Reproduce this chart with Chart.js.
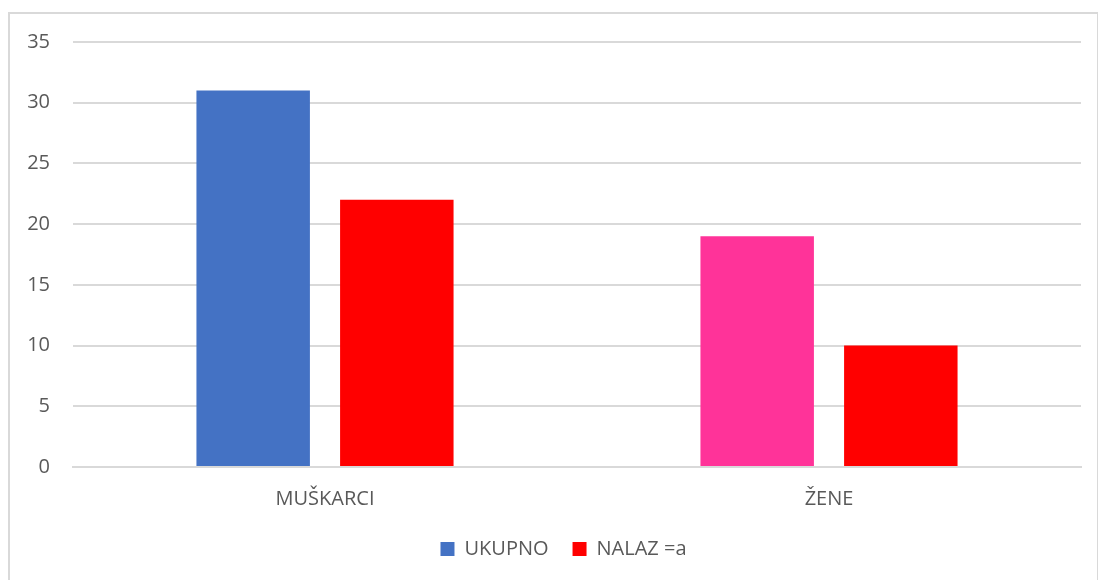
<!DOCTYPE html>
<html>
<head>
<meta charset="utf-8">
<script src="https://cdn.jsdelivr.net/npm/chart.js@4"></script>
<style>
  html, body { margin: 0; padding: 0; background: #fff; }
  #frame { position: absolute; left: 8px; top: 12px; width: 1087px; height: 600px; border: 2px solid #d9d9d9; }
  #c { position: absolute; left: 0; top: 0; }
</style>
</head>
<body>
<div id="frame"></div>
<canvas id="c" width="1098" height="580"></canvas>
<script>
// data
const categories = ["MUŠKARCI", "ŽENE"];
const ukupno = [31, 19];
const nalaz = [22, 10];
const seriesNames = ["UKUPNO", "NALAZ =a"];
const yTicks = [0, 5, 10, 15, 20, 25, 30, 35];

const ukupnoColors = ["#4472C4", "#FF3399"];
const nalazColor = "#FF0000";
const textColor = "#595959";
const gridColor = "#d9d9d9";
const font = { family: "'Open Sans', sans-serif", size: 20 };

// legend sits a bit right of centre in the original
const legendShift = {
  id: "legendShift",
  afterLayout(chart) {
    chart.legend.left += 23;
    chart.legend.right += 23;
  },
};

const ctx = document.getElementById("c").getContext("2d");
const chart = new Chart(ctx, {
  type: "bar",
  data: {
    labels: categories,
    datasets: [
      {
        label: seriesNames[0],
        data: ukupno,
        backgroundColor: ukupnoColors,
        categoryPercentage: 0.57,
        barPercentage: 0.79,
      },
      {
        label: seriesNames[1],
        data: nalaz,
        backgroundColor: nalazColor,
        categoryPercentage: 0.57,
        barPercentage: 0.79,
      },
    ],
  },
  options: {
    responsive: false,
    animation: false,
    layout: { padding: { left: 0, right: 17, top: 42, bottom: 11 } },
    scales: {
      x: {
        grid: { display: false, drawTicks: false },
        border: { display: true, color: gridColor, width: 2 },
        ticks: { color: textColor, font: font, padding: 20 },
        afterFit: (scale) => { scale.height = 48; },
      },
      y: {
        min: 0,
        max: 35,
        afterBuildTicks: (scale) => { scale.ticks = yTicks.map((v) => ({ value: v })); },
        grid: { color: gridColor, lineWidth: 2, drawTicks: false },
        border: { display: false },
        ticks: { color: textColor, font: font, padding: 23 },
        afterFit: (scale) => { scale.width = 73; },
      },
    },
    plugins: {
      legend: {
        position: "bottom",
        labels: {
          color: textColor,
          font: font,
          boxWidth: 14,
          boxHeight: 14,
          padding: 24,
          generateLabels: (c) => {
            const items = Chart.defaults.plugins.legend.labels.generateLabels(c);
            items[0].fillStyle = ukupnoColors[0];
            items[0].strokeStyle = ukupnoColors[0];
            items[1].fillStyle = nalazColor;
            items[1].strokeStyle = nalazColor;
            items.forEach((it) => { it.lineWidth = 0; });
            return items;
          },
        },
      },
      tooltip: { enabled: false },
    },
  },
  plugins: [legendShift],
});
</script>
</body>
</html>
